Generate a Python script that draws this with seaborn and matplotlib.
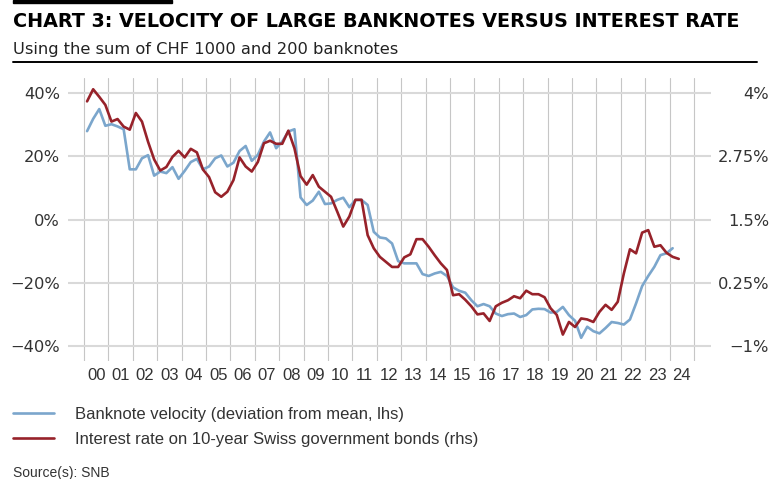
import numpy as np
import pandas as pd
import seaborn as sns
import matplotlib.pyplot as plt
from matplotlib.lines import Line2D
from matplotlib.patches import Rectangle

# Quarterly observations from 2000Q1, plotted at mid-quarter
velocity = [28, 31.9, 35, 29.7, 30.2, 29.5, 28.6, 15.9, 15.9, 19.4,
            20.4, 13.9, 15.2, 14.7, 16.6, 12.9, 15.4, 18.2, 19.2, 15.9,
            16.8, 19.4, 20.3, 16.8, 18, 21.7, 23.3, 18.6, 20.5, 24.7,
            27.6, 22.6, 24.7, 27.9, 28.6, 7, 4.6, 6, 8.8, 4.9,
            5.1, 6.2, 6.9, 3.9, 6.2, 6.2, 4.6, -3.9, -5.7, -6,
            -7.6, -13.2, -13.9, -13.9, -13.9, -17.3, -17.9, -17.1, -16.6, -17.9,
            -21.5, -22.6, -23.2, -25.6, -27.5, -26.8, -27.5, -29.8, -30.6, -30,
            -29.8, -30.9, -30.3, -28.5, -28.3, -28.4, -29.5, -29.3, -27.7, -30.3,
            -32.1, -37.5, -34, -35.4, -36.1, -34.4, -32.5, -32.8, -33.3, -31.7,
            -26.6, -21.1, -17.9, -15, -11.3, -10.7, -9.1]

bond_yield = [3.84, 4.08, 3.93, 3.77, 3.44, 3.49, 3.34, 3.28, 3.61, 3.44,
              3.04, 2.69, 2.47, 2.54, 2.74, 2.86, 2.73, 2.90, 2.83, 2.49,
              2.34, 2.04, 1.95, 2.05, 2.28, 2.73, 2.55, 2.45, 2.64, 3.01,
              3.06, 3.00, 3.00, 3.26, 2.91, 2.36, 2.19, 2.38, 2.15, 2.05,
              1.95, 1.66, 1.36, 1.56, 1.89, 1.89, 1.19, 0.93, 0.76, 0.66,
              0.56, 0.56, 0.75, 0.81, 1.11, 1.11, 0.96, 0.79, 0.63, 0.50,
              0.00, 0.02, -0.09, -0.22, -0.38, -0.36, -0.51, -0.22, -0.15, -0.10,
              -0.02, -0.06, 0.09, 0.02, 0.02, -0.04, -0.26, -0.39, -0.78, -0.53,
              -0.63, -0.46, -0.48, -0.53, -0.33, -0.19, -0.29, -0.13, 0.43, 0.91,
              0.83, 1.24, 1.29, 0.96, 0.99, 0.84, 0.76, 0.72]

years = list(range(2000, 2026))
year_labels = ['00', '01', '02', '03', '04', '05', '06', '07', '08', '09', '10', '11',
               '12', '13', '14', '15', '16', '17', '18', '19', '20', '21', '22', '23', '24']
lhs_ticks = [-40, -20, 0, 20, 40]
lhs_labels = ['−40%', '−20%', '0%', '20%', '40%']
rhs_ticks = [-1, 0.25, 1.5, 2.75, 4]
rhs_labels = ['−1%', '0.25%', '1.5%', '2.75%', '4%']

df_v = pd.DataFrame({'ano': 2000.125 + 0.25 * np.arange(len(velocity)), 'valor': velocity})
df_r = pd.DataFrame({'ano': 2000.125 + 0.25 * np.arange(len(bond_yield)), 'valor': bond_yield})

azul = '#7ba6cc'
vermelho = '#97222a'
texto = '#333333'

sns.set_theme(style='white')
plt.rcParams['font.family'] = ['DejaVu Sans']

W, H = 771, 479
fig = plt.figure(figsize=(W / 100, H / 100), dpi=100)
ax = fig.add_axes([68 / W, 1 - 361 / H, (711 - 68) / W, (361 - 78) / H])
ax2 = ax.twinx()

sns.lineplot(data=df_v, x='ano', y='valor', ax=ax, color=azul, linewidth=1.9)
sns.lineplot(data=df_r, x='ano', y='valor', ax=ax2, color=vermelho, linewidth=1.9)

# eixos
ax.set_xlim(1999.344, 2025.697)
ax.set_ylim(-44.85, 44.85)
ax2.set_ylim(1.5 - 44.85 / 16, 1.5 + 44.85 / 16)

ax.set_xticks(years)
ax.set_xticklabels([])
ax.set_xticks([y + 0.5 for y in years[:-1]], minor=True)
ax.set_xticklabels(year_labels, minor=True, fontsize=12, family='Liberation Sans', color=texto)
ax.tick_params(axis='x', which='both', length=0, pad=5)

ax.set_yticks(lhs_ticks)
ax.set_yticklabels(lhs_labels, fontsize=11.7, color=texto)
ax.tick_params(axis='y', length=0, pad=5.8)

ax2.set_yticks(rhs_ticks)
ax2.set_yticklabels(rhs_labels, fontsize=11.7, color=texto, ha='right')
ax2.tick_params(axis='y', length=0, pad=41.8)

ax.grid(axis='y', color='#d9d9d9', linewidth=1.5)
ax.grid(axis='x', which='major', color='#c6c6c6', linewidth=0.8)
ax2.grid(False)
for a in (ax, ax2):
    a.set_xlabel('')
    a.set_ylabel('')
    for s in a.spines.values():
        s.set_visible(False)

# títulos
fig.add_artist(Rectangle((13 / W, 1 - 3 / H), (172 - 13) / W, 3 / H, color='black',
                         transform=fig.transFigure))
fig.text(13 / W, 1 - 26.7 / H, 'CHART 3: VELOCITY OF LARGE BANKNOTES VERSUS INTEREST RATE',
         fontsize=13.8, fontweight='bold', color='black', va='baseline')
fig.text(13 / W, 1 - 54.3 / H, 'Using the sum of CHF 1000 and 200 banknotes',
         fontsize=11.7, color='#222222', va='baseline')
fig.add_artist(Line2D([13 / W, 757 / W], [1 - 62.2 / H, 1 - 62.2 / H], color='black',
                      linewidth=1.4, transform=fig.transFigure))

# legenda
handles = [Line2D([], [], color=azul, linewidth=1.9), Line2D([], [], color=vermelho, linewidth=1.9)]
labels = ['Banknote velocity (deviation from mean, lhs)',
          'Interest rate on 10-year Swiss government bonds (rhs)']
fig.legend(handles, labels, loc='upper left', bbox_to_anchor=(13 / W, 1 - 407 / H),
           frameon=False, borderpad=0, borderaxespad=0, handlelength=2.46,
           handletextpad=1.26, labelspacing=0.6,
           prop={'family': 'Liberation Sans', 'size': 12}, labelcolor=texto)

fig.text(13 / W, 1 - 473 / H, 'Source(s): SNB', fontsize=10, family='Liberation Sans',
         color=texto, va='center')

plt.savefig('out.png', dpi=100)
plt.close()
